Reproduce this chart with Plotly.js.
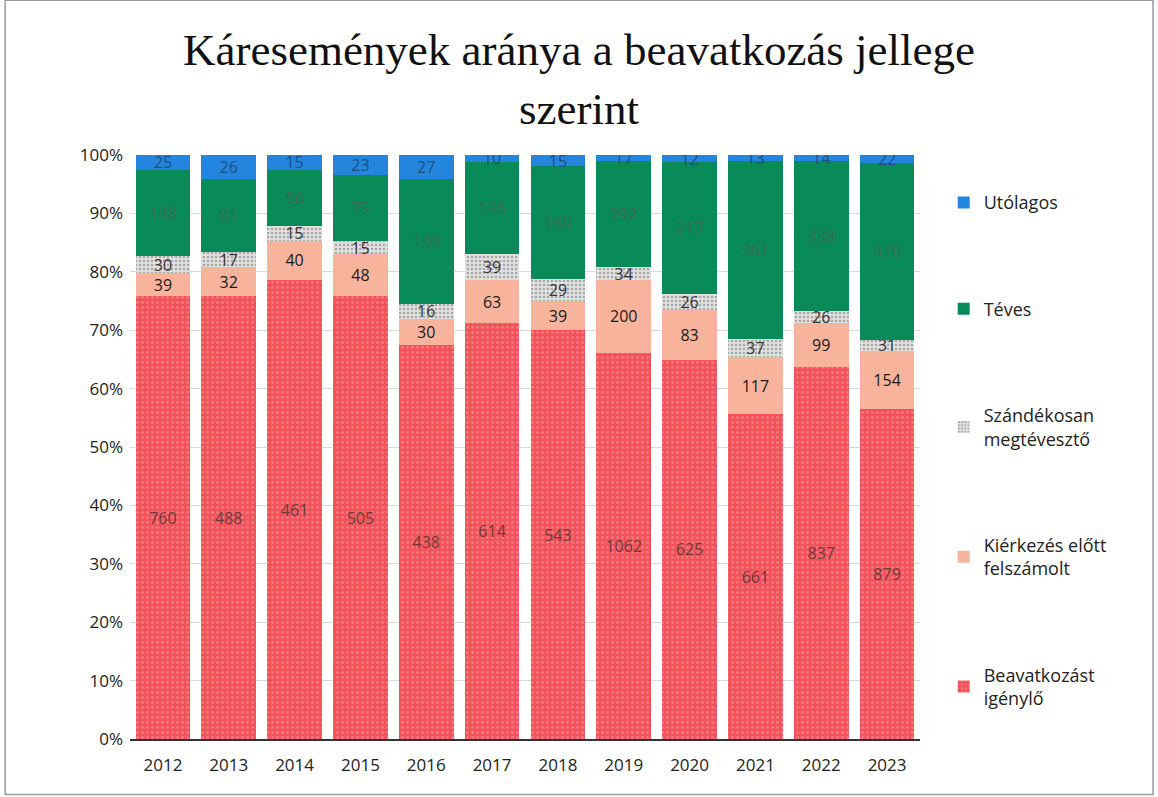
<!DOCTYPE html>
<html>
<head>
<meta charset="utf-8">
<script src="https://cdn.plot.ly/plotly-3.0.1.min.js"></script>
<style>
  body { margin: 0; background: #fff; }
  #chart { width: 1158px; height: 797px; }
</style>
</head>
<body>
<div id="chart"></div>
<script>
// Years on the x axis
const years = ['2012', '2013', '2014', '2015', '2016', '2017', '2018', '2019', '2020', '2021', '2022', '2023'];

// Counts per category (stacked, shown as percent)
const beavatkozast = [760, 488, 461, 505, 438, 614, 543, 1062, 625, 661, 837, 879];
const kierkezes = [39, 32, 40, 48, 30, 63, 39, 200, 83, 117, 99, 154];
const szandekosan = [30, 17, 15, 15, 16, 39, 29, 34, 26, 37, 26, 31];
const teves = [148, 81, 56, 75, 139, 136, 150, 292, 217, 361, 338, 470];
const utolagos = [25, 26, 15, 23, 27, 10, 15, 17, 12, 13, 14, 22];

const seriesNames = ['Beavatkozást<br>igénylő', 'Kiérkezés előtt<br>felszámolt', 'Szándékosan<br>megtévesztő', 'Téves', 'Utólagos'];

function makeTrace(vals, name, rank, color, textColor, pattern) {
    const t = {
        x: years,
        y: vals,
        name: name,
        type: 'bar',
        legendgroup: name,
        legendrank: rank,
        text: vals.map(String),
        textposition: 'inside',
        insidetextanchor: 'middle',
        textangle: 0,
        constraintext: 'none',
        textfont: {family: 'Open Sans, Arial, sans-serif', size: 16, color: textColor},
        marker: {color: color, line: {width: 0}},
        hoverinfo: 'x+y+name'
    };
    if (pattern) t.marker.pattern = pattern;
    return t;
}

const traces = [
    makeTrace(beavatkozast, seriesNames[0], 5, '#f2525a', '#6e3a3a',
        {shape: '.', fgcolor: '#f77a80', bgcolor: '#f2525a', size: 5, solidity: 0.25}),
    makeTrace(kierkezes, seriesNames[1], 4, '#f8b39c', '#1a1a1a'),
    makeTrace(szandekosan, seriesNames[2], 3, '#cfcfcf', '#333333',
        {shape: '.', fgcolor: '#a8a8a8', bgcolor: '#e2e2e2', size: 4, solidity: 0.35}),
    makeTrace(teves, seriesNames[3], 2, '#098a59', '#3d6b55'),
    makeTrace(utolagos, seriesNames[4], 1, '#2385dd', '#1f4f80')
];

const layout = {
    width: 1158,
    height: 797,
    paper_bgcolor: '#ffffff',
    plot_bgcolor: '#ffffff',
    barmode: 'stack',
    barnorm: 'percent',
    bargap: 0.17,
    margin: {l: 130, r: 238, t: 155, b: 58},
    title: {
        text: 'Káresemények aránya a beavatkozás jellege<br>szerint',
        font: {family: 'Liberation Serif, Times New Roman, serif', size: 45, color: '#111'},
        x: 0.5,
        xanchor: 'center',
        yref: 'container',
        y: 0.918,
        yanchor: 'middle'
    },
    xaxis: {
        type: 'category',
        tickfont: {family: 'Open Sans, Arial, sans-serif', size: 17, color: '#222'},
        showline: true,
        linecolor: '#333',
        linewidth: 2,
        ticks: '',
        ticklabelstandoff: 10
    },
    yaxis: {
        range: [0, 100],
        dtick: 10,
        ticksuffix: '%',
        tickfont: {family: 'Open Sans, Arial, sans-serif', size: 17, color: '#222'},
        gridcolor: '#d9d9d9',
        gridwidth: 1,
        zeroline: false,
        ticklabelstandoff: 6
    },
    legend: {
        traceorder: 'grouped',
        tracegroupgap: 80,
        x: 1.03,
        xanchor: 'left',
        y: 0.95,
        yanchor: 'top',
        font: {family: 'Open Sans, Arial, sans-serif', size: 18, color: '#222'},
        itemwidth: 30
    },
    shapes: [{
        type: 'rect', xref: 'paper', yref: 'paper',
        x0: -0.158, x1: 1.295, y0: -0.095, y1: 1.265,
        line: {color: '#9a9a9a', width: 1.5}
    }]
};

Plotly.newPlot('chart', traces, layout, {displayModeBar: false});
</script>
</body>
</html>
